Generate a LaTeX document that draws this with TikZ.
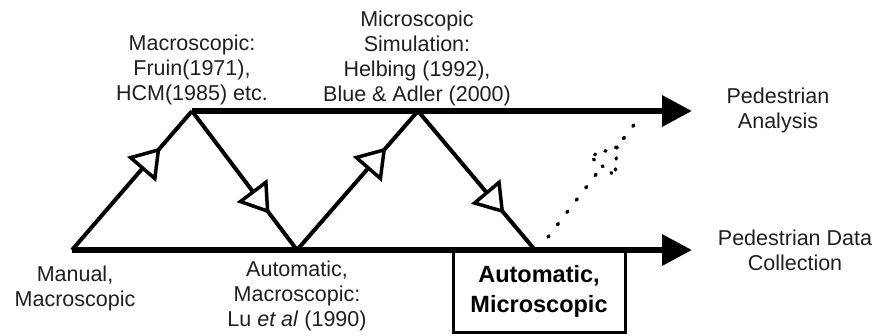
\documentclass[tikz,border=0pt]{standalone}
\usepackage{fontspec}
\setmainfont{Liberation Sans}
\usetikzlibrary{arrows.meta,decorations.markings}
\definecolor{txtc}{rgb}{0.12,0.12,0.12}
\begin{document}
\begin{tikzpicture}[x=1pt,y=-1pt,
  txt/.style={font=\fontsize{21.5}{25}\selectfont, text=txtc, align=center, inner sep=0pt},
  boxtxt/.style={draw, line width=3pt, font=\bfseries\fontsize{23.5}{30}\selectfont, text=black, align=center, minimum width=172pt, minimum height=82pt, inner sep=0pt},
  mainline/.style={line width=6.5pt, -{Triangle[length=30pt,width=30pt]}},
  diag/.style={line width=4pt},
  tri/.style={line width=3.5pt, solid},
  opentri/.style={decoration={markings, mark=at position #1 with {\draw[tri, fill=white, line join=miter] (0,0) -- (-24,16) -- (-24,-16) -- cycle;}}, postaction={decorate}},
  dotline/.style={line width=3.5pt, line cap=round, dash pattern=on 1.5pt off 14pt,
    tri/.style={line width=3.5pt, line cap=round, dash pattern=on 1pt off 10pt}}
]
\useasboundingbox (0,0) rectangle (875,335);

% points of the zig-zag
\coordinate (p0) at (72,250);
\coordinate (p1) at (192,111);
\coordinate (p2) at (297,250);
\coordinate (p3) at (418,111);
\coordinate (p4) at (535,250);
\coordinate (ta) at (692,111);
\coordinate (ba) at (692,250);
\coordinate (d0) at (548,237);
\coordinate (d1) at (640,117);

% main arrows
\draw[mainline] (p1) -- (ta);
\draw[mainline] (p0) -- (ba);

% zig-zag diagonals with open triangles
\draw[diag, opentri=0.72] (p0) -- (p1);
\draw[diag, opentri=0.72] (p1) -- (p2);
\draw[diag, opentri=0.72] (p2) -- (p3);
\draw[diag, opentri=0.72] (p3) -- (p4);

% dotted link
\draw[dotline, opentri=0.75] (d0) -- (d1);

% box
\node[boxtxt] (box) at (539,291) {Automatic,\\Microscopic};

% labels
\node[txt] (macro) at (192,70) {Macroscopic:\\Fruin(1971),\\HCM(1985) etc.};
\node[txt] (micro) at (417,58) {Microscopic\\Simulation:\\Helbing (1992),\\Blue \& Adler (2000)};
\node[txt] (manual) at (75,288) {Manual,\\Macroscopic};
\node[txt] (autmac) at (297,296) {Automatic,\\Macroscopic:\\Lu \textit{et al} (1990)};
\node[txt] (pa) at (778,110.5) {Pedestrian\\Analysis};
\node[txt] (pdc) at (795,250) {Pedestrian Data\\Collection};
\end{tikzpicture}
\end{document}
